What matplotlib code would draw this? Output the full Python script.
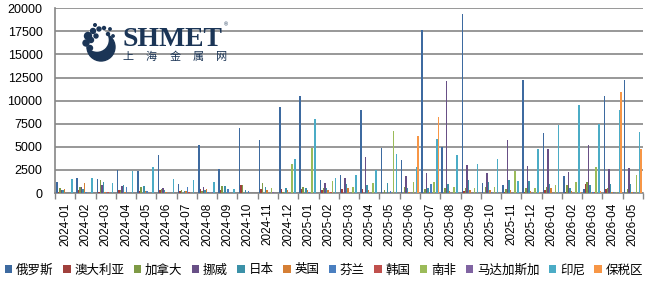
import matplotlib
matplotlib.use("Agg")
import matplotlib.pyplot as plt
from matplotlib.patches import Circle
import numpy as np

plt.rcParams['font.family'] = ['Liberation Sans', 'Noto Sans CJK SC', 'DejaVu Sans']

months = ["2024-01", "2024-02", "2024-03", "2024-04", "2024-05", "2024-06", "2024-07",
          "2024-08", "2024-09", "2024-10", "2024-11", "2024-12", "2025-01", "2025-02",
          "2025-03", "2025-04", "2025-05", "2025-06", "2025-07", "2025-08", "2025-09",
          "2025-10", "2025-11", "2025-12", "2026-01", "2026-02", "2026-03", "2026-04",
          "2026-05"]

# values per series, one per month
russia = [1200, 1600, 1480, 2450, 2350, 4070, 940, 5150, 2550, 7000, 5700, 9360, 10550, 1370,
          1910, 9040, 4830, 3530, 17680, 4940, 19330, 1050, 830, 12280, 6450, 1800, 400, 10550, 12280]
australia = [100, 300, 100, 300, 200, 300, 200, 400, 300, 830, 400, 400, 400, 300,
             400, 400, 0, 0, 0, 0, 200, 0, 150, 150, 290, 150, 940, 400, 0]
canada = [500, 600, 1370, 300, 600, 400, 300, 200, 720, 830, 1050, 150, 620, 510,
          0, 0, 290, 620, 400, 510, 510, 620, 400, 510, 620, 830, 1150, 510, 400]
norway = [300, 600, 840, 720, 0, 500, 0, 620, 0, 0, 0, 0, 0, 1050,
          1590, 3860, 0, 1800, 2200, 12170, 2990, 2130, 5700, 2880, 4720, 2240, 5150, 2560, 2670]
japan = [300, 400, 1150, 830, 720, 300, 200, 300, 720, 290, 620, 510, 510, 510,
         940, 830, 1050, 510, 510, 940, 1370, 1150, 1370, 1260, 940, 510, 830, 940, 940]
uk = [400, 1050, 100, 100, 200, 100, 200, 400, 0, 0, 290, 290, 300, 290,
      510, 290, 0, 100, 100, 180, 300, 300, 290, 180, 510, 180, 100, 100, 100]
finland = [0, 100, 100, 620, 200, 0, 620, 100, 400, 200, 0, 0, 100, 0,
           0, 0, 180, 0, 940, 0, 0, 100, 0, 0, 0, 0, 100, 100, 100]
korea = [0, 0, 100, 0, 0, 0, 100, 0, 0, 0, 0, 0, 0, 100,
         0, 0, 0, 0, 0, 0, 0, 0, 0, 0, 0, 0, 100, 0, 0]
south_africa = [0, 0, 0, 0, 0, 0, 0, 0, 0, 0, 510, 3100, 4830, 1260,
                620, 1050, 6680, 1150, 1150, 620, 510, 620, 2340, 510, 830, 1150, 2780, 150, 1910]
madagascar = [0, 0, 0, 0, 0, 0, 0, 100, 0, 0, 100, 0, 0, 0,
              0, 0, 0, 0, 0, 0, 0, 0, 0, 0, 0, 0, 0, 0, 0]
indonesia = [1500, 1600, 1050, 2350, 2780, 1480, 1370, 1150, 400, 0, 0, 3640, 7960, 1590,
             1910, 2450, 4180, 2780, 5900, 4070, 3100, 3640, 1260, 4720, 7320, 9580, 7480, 9040, 6560]
bonded = [0, 0, 0, 0, 0, 0, 0, 0, 0, 0, 0, 0, 0, 0,
          0, 0, 0, 6130, 8270, 0, 0, 0, 0, 100, 0, 100, 180, 10990, 4720]

names = ["俄罗斯", "澳大利亚", "加拿大", "挪威", "日本", "英国",
         "芬兰", "韩国", "南非", "马达加斯加", "印尼", "保税区"]
series = [russia, australia, canada, norway, japan, uk,
          finland, korea, south_africa, madagascar, indonesia, bonded]
colors = ["#3D6AA0", "#A0403C", "#7E9A45", "#684F86", "#3B91A8", "#D57F35",
          "#4A7FC0", "#C0504D", "#9BBB59", "#8064A2", "#4BACC6", "#F79646"]

fig = plt.figure(figsize=(6.48, 2.87), dpi=100)
ax = fig.add_axes([55 / 648, 1 - 193 / 287, (643 - 55) / 648, (193 - 8.3) / 287])

idx = np.arange(len(months))
w = 1 / 13.5
for k in range(len(series)):
    ax.bar(idx - 6 * w + (k + 0.5) * w, series[k], width=w, color=colors[k],
           linewidth=0, label=names[k], zorder=3)

ax.set_xlim(-0.5, len(months) - 0.5)
ax.set_ylim(0, 20000)
ax.set_yticks(np.arange(0, 20001, 2500))
ax.yaxis.grid(True, color="#868686", linewidth=1.2, zorder=0)
ax.set_axisbelow(True)

ax.set_xticks(idx)
ax.set_xticklabels(months, rotation=90, fontsize=8.5)
ax.set_xticks(np.arange(-0.5, len(months), 1), minor=True)
ax.tick_params(axis="x", which="major", length=0, pad=7)
ax.tick_params(axis="x", which="minor", length=4, color="#868686", width=1)
ax.tick_params(axis="y", length=0, pad=9, labelsize=9)

for s in ["top", "right"]:
    ax.spines[s].set_visible(False)
for s in ["left", "bottom"]:
    ax.spines[s].set_color("#868686")
    ax.spines[s].set_linewidth(1.2)

fig.legend(loc="center", bbox_to_anchor=(0.5, 1 - 270 / 287), ncol=12, frameon=False,
           prop={"family": "Noto Sans CJK SC", "size": 9},
           handlelength=0.6, handleheight=0.6, handletextpad=0.3, columnspacing=0.75,
           borderaxespad=0)

# logo
navy = "#1B3556"
logo = fig.add_axes([0, 0, 1, 1], zorder=5)
logo.set_xlim(0, 648)
logo.set_ylim(287, 0)
logo.axis("off")
logo.add_patch(Circle((101, 47), 14, color=navy))
logo.add_patch(Circle((97, 40), 11, color="white"))
for cx, cy, r in [(88, 36, 3.5), (93, 31, 2.5), (99, 29, 2), (86, 43, 3), (91, 40, 2.5),
                  (96, 36, 2), (104, 28, 1.5), (108, 34, 1.5), (90, 48, 2.5), (113, 36, 1.2),
                  (110, 29, 1.2), (95, 25, 1.3)]:
    logo.add_patch(Circle((cx, cy), r, color=navy))
logo.text(122, 46, "SHMET", fontfamily="Liberation Serif", fontweight="bold",
          fontsize=20, color=navy, va="baseline", ha="left")
logo.text(224, 25, "®", fontsize=4, color=navy, ha="left", va="center")
for i, ch in enumerate("上海金属网"):
    logo.text(128 + i * 23.5, 57, ch, fontfamily="Noto Sans CJK SC", fontsize=8,
              color=navy, ha="center", va="center")

fig.savefig("out.png", dpi=100)
